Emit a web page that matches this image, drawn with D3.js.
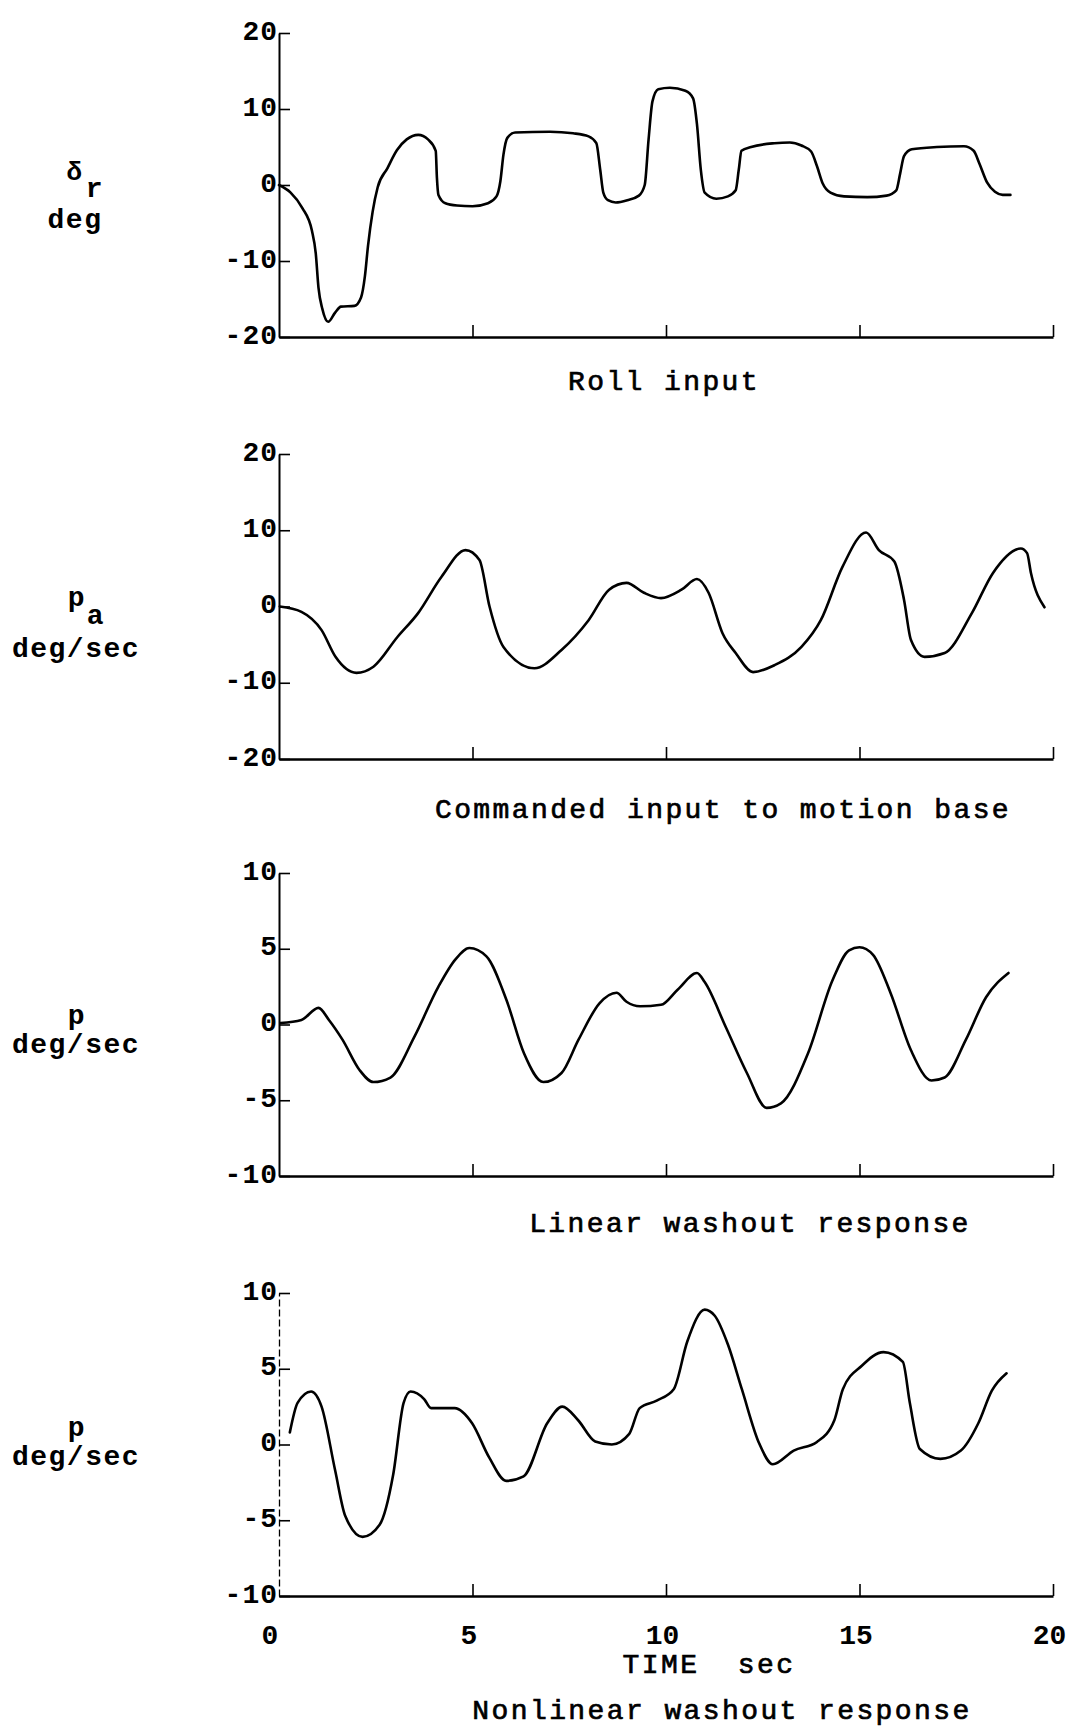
<!DOCTYPE html>
<html>
<head>
<meta charset="utf-8">
<script src="https://cdn.jsdelivr.net/npm/d3@7"></script>
<style>
  html, body { margin: 0; padding: 0; background: #fff; }
  svg { display: block; }
  text { font-family: "Liberation Mono", "DejaVu Sans Mono", monospace; fill: #000; }
</style>
</head>
<body>
<script>
// ---------------- data ----------------
const xTicks = [0, 5, 10, 15, 20];
const yTicksWide = [-20, -10, 0, 10, 20];
const yTicksNarrow = [-10, -5, 0, 5, 10];

const panelTitles = ["Roll input", "Commanded input to motion base", "Linear washout response", "Nonlinear washout response"];
const xAxisTitle = "TIME  sec";

// [time sec, value]
const rollInput = [
  [0,0],[0.3,-1],[0.6,-3],[0.85,-6],[0.95,-9],[1.02,-13.5],[1.12,-16.3],[1.27,-18],[1.45,-16.8],[1.6,-16.0],
  [1.95,-15.9],[2.12,-14.8],[2.22,-12],[2.3,-8],[2.42,-3.5],[2.55,-0.3],[2.8,2.2],[3.05,4.6],[3.3,6.0],[3.6,6.6],
  [3.85,6.0],[4.05,4.5],[4.08,1],[4.12,-1.3],[4.3,-2.4],[4.6,-2.7],[5.0,-2.8],[5.4,-2.4],[5.62,-1.5],[5.72,0.5],
  [5.8,4],[5.9,6.2],[6.1,6.9],[7.0,7.0],[7.6,6.8],[8.0,6.4],[8.2,5.5],[8.3,2],[8.38,-1],[8.5,-2],
  [8.7,-2.3],[9.0,-2.0],[9.3,-1.4],[9.45,0],[9.55,6],[9.65,11],[9.8,12.6],[10.1,12.8],[10.5,12.4],[10.7,11.4],
  [10.8,8],[10.9,2],[11.0,-1],[11.3,-1.8],[11.6,-1.5],[11.8,-0.7],[11.88,2],[11.95,4.5],[12.2,5.0],[12.8,5.5],
  [13.2,5.6],[13.5,5.2],[13.75,4.4],[13.9,2.5],[14.05,0.2],[14.25,-1],[14.6,-1.5],[15.2,-1.6],[15.7,-1.4],[15.95,-0.7],
  [16.05,1.5],[16.15,3.8],[16.35,4.7],[17.0,5.0],[17.7,5.1],[17.95,4.5],[18.1,2.8],[18.3,0.3],[18.5,-0.9],[18.7,-1.3],[18.9,-1.3]
];

const commandedInput = [
  [0.02,0],[0.58,-0.7],[1.1,-3.1],[1.46,-6.6],[2.0,-8.7],[2.44,-7.9],[3.06,-4.0],[3.59,-0.9],[4.2,3.9],[4.82,7.4],
  [5.18,6.1],[5.44,0],[5.8,-5.3],[6.6,-8.1],[7.3,-5.7],[8.0,-1.8],[8.53,2.2],[8.98,3.1],[9.43,1.8],[9.87,1.1],
  [10.4,2.2],[10.8,3.6],[11.1,1.8],[11.46,-3.5],[11.8,-6.1],[12.25,-8.6],[12.8,-7.7],[13.5,-5.3],[14.0,-1.8],[14.56,5.2],
  [15.17,9.7],[15.5,7.4],[15.9,5.9],[16.15,0.9],[16.33,-4.4],[16.68,-6.6],[17.2,-6.1],[17.9,-0.9],[18.45,4.4],[19.17,7.6],
  [19.33,7.0],[19.43,4.4],[19.78,-0.1]
];

const linearWashout = [
  [0.04,0.1],[0.58,0.3],[1.02,1.1],[1.29,0.3],[1.64,-1.0],[2.08,-3.0],[2.44,-3.8],[2.88,-3.5],[3.5,-0.8],[4.12,2.5],
  [4.56,4.3],[4.92,5.05],[5.36,4.5],[5.88,1.6],[6.33,-1.9],[6.83,-3.8],[7.3,-3.2],[7.74,-1.0],[8.28,1.4],[8.72,2.1],
  [8.98,1.5],[9.33,1.2],[9.87,1.3],[10.3,2.3],[10.8,3.4],[11.0,2.8],[11.55,-0.2],[12.09,-3.2],[12.6,-5.5],[12.97,-5.2],
  [13.67,-1.9],[14.3,2.9],[14.73,4.9],[15.0,5.1],[15.35,4.6],[15.8,2.1],[16.33,-1.7],[16.86,-3.7],[17.2,-3.5],[17.75,-1.0],
  [18.27,1.8],[18.85,3.4]
];

const nonlinearWashout = [
  [0.28,0.8],[0.48,2.75],[0.83,3.5],[1.1,2.5],[1.45,-1.7],[1.71,-4.7],[2.16,-6.1],[2.6,-5.3],[2.95,-2.0],[3.22,2.75],
  [3.4,3.5],[3.75,3.0],[3.93,2.4],[4.54,2.4],[4.99,1.4],[5.43,-0.85],[5.87,-2.4],[6.32,-2.1],[6.93,1.4],[7.32,2.5],
  [7.73,1.6],[8.17,0.2],[8.6,0],[9.05,0.7],[9.32,2.4],[9.76,2.9],[10.2,3.65],[10.55,6.8],[11.0,8.9],[11.26,8.5],
  [11.6,6.6],[11.96,3.65],[12.41,0.06],[12.76,-1.3],[13.3,-0.4],[13.9,0.17],[14.35,1.6],[14.57,3.65],[15.06,5.2],[15.62,6.1],
  [16.12,5.45],[16.3,2.75],[16.56,-0.3],[17.09,-0.95],[17.62,-0.4],[18.07,1.4],[18.42,3.55],[18.8,4.7]
];

// ---------------- layout ----------------
const W = 1071, H = 1731;
const X0 = 279, X1 = 1053;
const layout = [
  { data: rollInput,        ticks: yTicksWide,   top: 33,   bottom: 337,  titleX: 664, titleY: 390,  dashedAxis: false, xLabels: false },
  { data: commandedInput,   ticks: yTicksWide,   top: 454,  bottom: 759,  titleX: 723, titleY: 818,  dashedAxis: false, xLabels: false },
  { data: linearWashout,    ticks: yTicksNarrow, top: 873,  bottom: 1176, titleX: 750, titleY: 1232, dashedAxis: false, xLabels: false },
  { data: nonlinearWashout, ticks: yTicksNarrow, top: 1293, bottom: 1596, titleX: 722, titleY: 1719, dashedAxis: true,  xLabels: true }
];

const svg = d3.select("body").append("svg").attr("width", W).attr("height", H);

const x = d3.scaleLinear().domain([xTicks[0], xTicks[xTicks.length - 1]]).range([X0, X1]);

layout.forEach((p, i) => {
  const ticks = p.ticks;
  const y = d3.scaleLinear().domain([ticks[0], ticks[ticks.length - 1]]).range([p.bottom, p.top]);
  const g = svg.append("g");

  // y axis: labels left, short ticks to the right
  const yAxis = d3.axisLeft(y).tickValues(ticks).tickSize(-11).tickSizeOuter(0).tickPadding(1).tickFormat(d3.format("d"));
  const ya = g.append("g").attr("transform", `translate(${X0},0)`).call(yAxis);
  ya.select(".domain").attr("stroke", "#000").attr("stroke-width", 2)
    .attr("stroke-dasharray", p.dashedAxis ? "7,3" : null)
    .attr("stroke-width", p.dashedAxis ? 1.3 : 2);
  ya.selectAll(".tick line").attr("stroke", "#000").attr("stroke-width", 1.6);
  ya.selectAll(".tick text")
    .attr("font-family", "Liberation Mono, monospace")
    .attr("font-size", 28).attr("font-weight", "bold")
    .attr("letter-spacing", "1px")
    .attr("dy", "0.22em")
    .text(d => (d < 0 ? "-" + Math.abs(d) : d));

  // x axis: ticks pointing up
  const xAxis = d3.axisBottom(x).tickValues(xTicks.filter(t => t !== 0)).tickSize(-12).tickSizeOuter(0).tickPadding(28)
    .tickFormat(p.xLabels ? d3.format("d") : () => "");
  const xa = g.append("g").attr("transform", `translate(0,${p.bottom})`).call(xAxis);
  xa.select(".domain").attr("stroke", "#000").attr("stroke-width", 2.4);
  xa.selectAll(".tick line").attr("stroke", "#000").attr("stroke-width", 1.6);
  if (p.xLabels) {
    xa.selectAll(".tick text").attr("font-size", 28).attr("font-weight", "bold").attr("dx", -4);
    // the "0" label at the origin
    xa.append("text").attr("x", x(0) - 9).attr("y", 28).attr("dy", "0.71em")
      .attr("text-anchor", "middle").attr("font-size", 28).attr("font-weight", "bold")
      .attr("font-family", "Liberation Mono, monospace").attr("fill", "#000").text(d3.format("d")(xTicks[0]));
  }

  // curve
  const line = d3.line().x(d => x(d[0])).y(d => y(d[1])).curve(d3.curveMonotoneX);
  g.append("path").datum(p.data).attr("d", line)
    .attr("fill", "none").attr("stroke", "#000").attr("stroke-width", 2.6)
    .attr("stroke-linejoin", "round").attr("stroke-linecap", "round");

  // panel title
  g.append("text").attr("x", p.titleX).attr("y", p.titleY).attr("text-anchor", "middle")
    .attr("font-size", 28).attr("letter-spacing", "2.4px")
    .attr("stroke", "#000").attr("stroke-width", 0.7)
    .text(panelTitles[i]);
});

// x axis title (bottom panel)
svg.append("text").attr("x", 709).attr("y", 1673).attr("text-anchor", "middle")
  .attr("font-size", 28).attr("letter-spacing", "2.4px").attr("stroke", "#000").attr("stroke-width", 0.7)
  .attr("xml:space", "preserve").style("white-space", "pre").text(xAxisTitle);

// y axis labels
function label(txt, cx, by, opts = {}) {
  svg.append("text").attr("x", cx).attr("y", by).attr("text-anchor", "middle")
    .attr("font-size", opts.size || 28).attr("font-weight", "bold")
    .attr("letter-spacing", "1.5px").text(txt);
}
label("δ", 75, 180, { size: 26 });
label("r", 95, 197);
label("deg", 75, 228);

label("p", 77, 606);
label("a", 96, 624);
label("deg/sec", 76, 657);

label("p", 77, 1024);
label("deg/sec", 76, 1053);

label("p", 77, 1436);
label("deg/sec", 76, 1465);
</script>
</body>
</html>
